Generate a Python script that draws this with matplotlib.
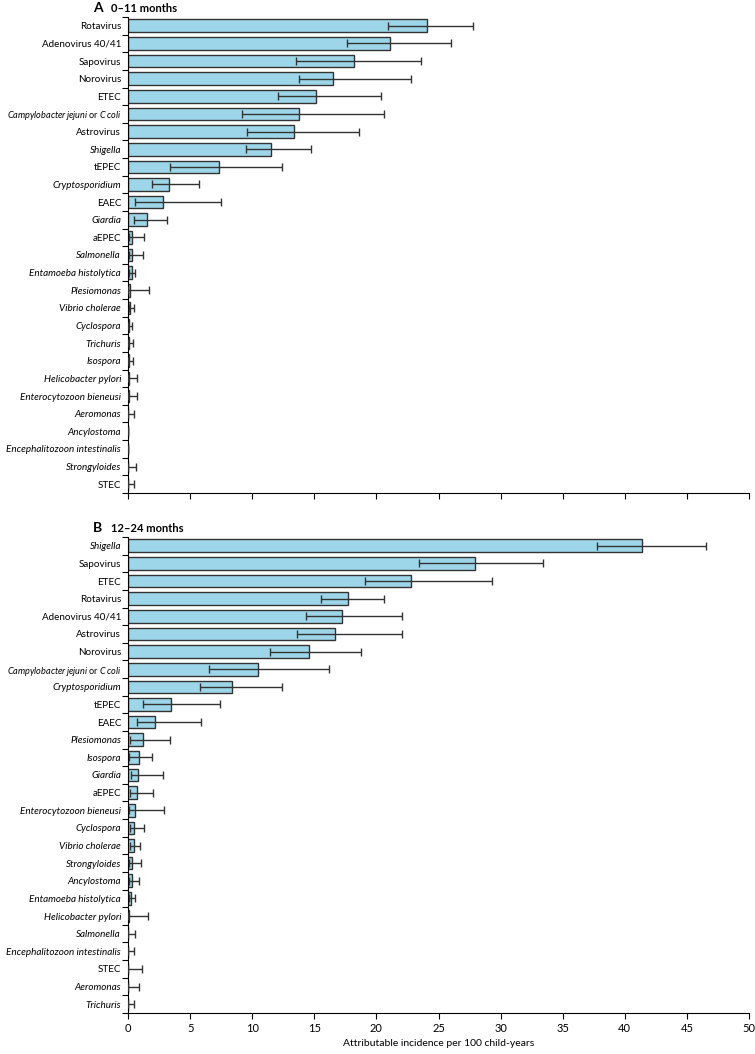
import matplotlib
matplotlib.use("Agg")
import matplotlib.pyplot as plt
import numpy as np

plt.rcParams['font.family'] = ['Lato', 'DejaVu Sans']
plt.rcParams['mathtext.fontset'] = 'custom'
plt.rcParams['mathtext.rm'] = 'Lato'
plt.rcParams['mathtext.it'] = 'Lato:italic'

CAMPY = r'$\it{Campylobacter\,jejuni}$ or $\it{C\,coli}$'

# names that are written in italic (genus / species)
italic_names = {
    "Shigella", "Cryptosporidium", "Giardia", "Salmonella", "Entamoeba histolytica",
    "Plesiomonas", "Vibrio cholerae", "Cyclospora", "Trichuris", "Isospora",
    "Helicobacter pylori", "Enterocytozoon bieneusi", "Aeromonas", "Ancylostoma",
    "Encephalitozoon intestinalis", "Strongyloides",
}

# Panel A: 0-11 months
names_a = ["Rotavirus", "Adenovirus 40/41", "Sapovirus", "Norovirus", "ETEC", CAMPY,
           "Astrovirus", "Shigella", "tEPEC", "Cryptosporidium", "EAEC", "Giardia",
           "aEPEC", "Salmonella", "Entamoeba histolytica", "Plesiomonas",
           "Vibrio cholerae", "Cyclospora", "Trichuris", "Isospora",
           "Helicobacter pylori", "Enterocytozoon bieneusi", "Aeromonas",
           "Ancylostoma", "Encephalitozoon intestinalis", "Strongyloides", "STEC"]
est_a = [24.1, 21.1, 18.2, 16.5, 15.1, 13.8, 13.4, 11.5, 7.3, 3.3, 2.8, 1.5,
         0.35, 0.3, 0.3, 0.2, 0.15, 0.08, 0.08, 0.05, 0.05, 0.05, 0.0,
         0.0, 0.0, 0.0, 0.0]
lo_a = [20.9, 17.6, 13.5, 13.8, 12.1, 9.2, 9.6, 9.5, 3.4, 1.9, 0.6, 0.5,
        0.1, 0.05, 0.1, 0.0, 0.05, 0.0, 0.0, 0.0, 0.0, 0.0, 0.0,
        0.0, 0.0, 0.0, 0.0]
hi_a = [27.8, 26.0, 23.6, 22.8, 20.4, 20.6, 18.6, 14.7, 12.4, 5.7, 7.5, 3.1,
        1.3, 1.2, 0.6, 1.7, 0.45, 0.3, 0.4, 0.4, 0.75, 0.75, 0.45,
        0.0, 0.0, 0.65, 0.45]

# Panel B: 12-24 months
names_b = ["Shigella", "Sapovirus", "ETEC", "Rotavirus", "Adenovirus 40/41",
           "Astrovirus", "Norovirus", CAMPY, "Cryptosporidium", "tEPEC", "EAEC",
           "Plesiomonas", "Isospora", "Giardia", "aEPEC", "Enterocytozoon bieneusi",
           "Cyclospora", "Vibrio cholerae", "Strongyloides", "Ancylostoma",
           "Entamoeba histolytica", "Helicobacter pylori", "Salmonella",
           "Encephalitozoon intestinalis", "STEC", "Aeromonas", "Trichuris"]
est_b = [41.4, 27.9, 22.8, 17.7, 17.2, 16.7, 14.6, 10.5, 8.4, 3.5, 2.2, 1.2,
         0.85, 0.8, 0.75, 0.55, 0.5, 0.45, 0.3, 0.3, 0.25, 0.05, 0.02,
         0.02, 0.0, 0.0, 0.0]
lo_b = [37.8, 23.4, 19.1, 15.5, 14.3, 13.6, 11.4, 6.5, 5.8, 1.2, 0.75, 0.15,
        0.1, 0.25, 0.15, 0.05, 0.15, 0.2, 0.05, 0.1, 0.1, 0.0, 0.0,
        0.0, 0.0, 0.0, 0.0]
hi_b = [46.5, 33.4, 29.3, 20.6, 22.1, 22.1, 18.8, 16.2, 12.4, 7.4, 5.9, 3.4,
        1.9, 2.8, 2.0, 2.9, 1.3, 1.0, 1.05, 0.85, 0.6, 1.6, 0.6,
        0.5, 1.1, 0.9, 0.45]

bar_color = "#9dd6e9"
edge = "#333333"

fig = plt.figure(figsize=(7.55, 10.54), dpi=100)
W, H = 755, 1054
ax_a = fig.add_axes([128 / W, 1 - 493 / H, 621 / W, 476 / H])
ax_b = fig.add_axes([128 / W, 1 - 1013 / H, 621 / W, 476 / H])


def draw(ax, names, est, lo, hi, show_labels):
    n = len(names)
    y = np.arange(n)
    est = np.array(est)
    xerr = np.vstack([est - np.array(lo), np.array(hi) - est])
    ax.barh(y, est, height=0.72, color=bar_color, edgecolor=edge, linewidth=1.0, zorder=2)
    ax.errorbar(est, y, xerr=xerr, fmt="none", ecolor=edge, elinewidth=1.0,
                capsize=3, capthick=1.0, zorder=3)
    ax.set_ylim(n - 0.5, -0.5)
    ax.set_xlim(0, 50)
    ax.set_yticks(y)
    labels = ax.set_yticklabels(names, fontsize=7.1)
    for lab, nm in zip(labels, names):
        if nm in italic_names:
            lab.set_fontstyle("italic")
        if nm == CAMPY:
            lab.set_fontsize(6.6)
    ax.tick_params(axis="y", length=0, pad=5)
    ax.set_yticks(np.arange(n + 1) - 0.5, minor=True)
    ax.tick_params(axis="y", which="minor", length=4, width=0.8)
    ax.set_xticks(np.arange(0, 51, 5))
    ax.tick_params(axis="x", length=4, width=0.8, labelsize=8)
    if not show_labels:
        ax.set_xticklabels([])
    for s in ["top", "right"]:
        ax.spines[s].set_visible(False)
    for s in ["left", "bottom"]:
        ax.spines[s].set_linewidth(0.8)


draw(ax_a, names_a, est_a, lo_a, hi_a, False)
draw(ax_b, names_b, est_b, lo_b, hi_b, True)
ax_b.set_xlabel("Attributable incidence per 100 child-years", fontsize=7.5, labelpad=3)

fig.text(93 / W, 1 - 8 / H, "A", fontsize=10, fontweight="bold", va="center")
fig.text(111 / W, 1 - 8 / H, "0\u201311 months", fontsize=8, fontweight="bold", va="center")
fig.text(93 / W, 1 - 528 / H, "B", fontsize=10, fontweight="bold", va="center")
fig.text(111 / W, 1 - 528 / H, "12\u201324 months", fontsize=8, fontweight="bold", va="center")

fig.savefig("out.png", dpi=100)
